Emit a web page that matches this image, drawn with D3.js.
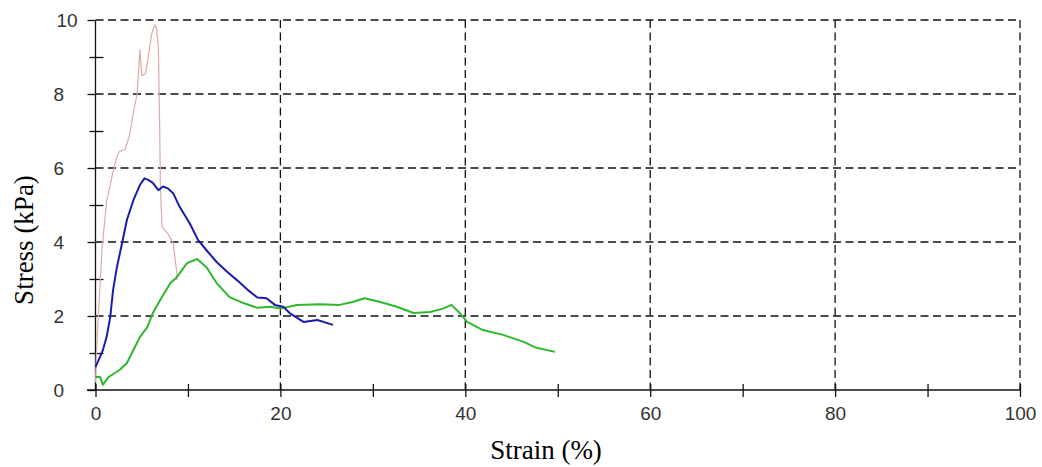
<!DOCTYPE html>
<html>
<head>
<meta charset="utf-8">
<script src="https://cdn.jsdelivr.net/npm/d3@7"></script>
<style>
  body { margin: 0; background: #fff; }
  svg { display: block; }
</style>
</head>
<body>
<svg width="1042" height="467"></svg>
<script>
// strain (%) vs stress (kPa)
var pinkStrain  = [0, 0.1, 0.3, 0.7, 1.2, 1.9, 2.3, 2.6, 3.2, 3.7, 4.1, 4.5, 4.8, 5.0, 5.4, 5.7, 6.1, 6.4, 6.6, 6.8, 6.9, 7.0, 7.0, 7.2, 7.8, 8.4, 8.8, 8.8];
var pinkStress  = [0.2, 1.0, 1.97, 3.8, 5.1, 5.9, 6.3, 6.45, 6.5, 6.9, 7.5, 8.0, 9.2, 8.5, 8.55, 9.0, 9.65, 9.86, 9.78, 9.27, 7.8, 6.0, 5.6, 4.4, 4.24, 3.97, 3.16, 2.97];

var blueStrain  = [0, 0.5, 0.8, 1.2, 1.6, 1.9, 2.3, 2.9, 3.4, 4.1, 4.8, 5.3, 5.7, 6.2, 6.8, 7.3, 7.8, 8.4, 9.1, 10.2, 11.1, 12.1, 13.1, 14.2, 15.3, 16.4, 17.5, 18.5, 19.4, 20.3, 21.0, 22.5, 24.0, 25.7];
var blueStress  = [0.62, 0.9, 1.08, 1.43, 1.98, 2.7, 3.3, 4.0, 4.6, 5.13, 5.54, 5.72, 5.68, 5.6, 5.4, 5.5, 5.45, 5.32, 4.95, 4.5, 4.05, 3.75, 3.46, 3.2, 2.97, 2.72, 2.5, 2.48, 2.3, 2.25, 2.08, 1.84, 1.89, 1.76];

var greenStrain = [0, 0.5, 0.8, 1.4, 2.1, 2.6, 3.4, 4.1, 4.8, 5.6, 6.2, 7.0, 8.1, 8.8, 9.9, 11.0, 12.0, 13.1, 14.5, 16.0, 17.5, 18.9, 20.0, 21.8, 24.3, 26.4, 27.8, 29.1, 30.8, 32.6, 34.4, 36.2, 37.6, 38.5, 39.4, 40.2, 41.9, 44.1, 46.3, 47.7, 49.7];
var greenStress = [0.35, 0.35, 0.14, 0.35, 0.46, 0.54, 0.73, 1.08, 1.43, 1.7, 2.08, 2.43, 2.89, 3.05, 3.43, 3.54, 3.32, 2.89, 2.51, 2.35, 2.22, 2.25, 2.2, 2.3, 2.32, 2.3, 2.38, 2.48, 2.38, 2.25, 2.08, 2.11, 2.2, 2.3, 2.08, 1.84, 1.62, 1.49, 1.3, 1.14, 1.03];

var xMajor = [0, 20, 40, 60, 80, 100];
var xMinor = [10, 30, 50, 70, 90];
var yMajor = [0, 2, 4, 6, 8, 10];
var yMinor = [1, 3, 5, 7, 9];

var x = d3.scaleLinear().domain([0, 100]).range([95.5, 1020]);
var y = d3.scaleLinear().domain([0, 10]).range([390, 20]);

var svg = d3.select('svg');

// dashed grid
svg.append('g')
  .selectAll('line')
  .data(yMajor.filter(d => d > 0))
  .enter()
  .append('line')
    .attr('x1', x(0)).attr('x2', x(100))
    .attr('y1', d => y(d)).attr('y2', d => y(d))
    .attr('stroke', '#111').attr('stroke-width', 1.3)
    .attr('stroke-dasharray', '8,4.5');

svg.append('g')
  .selectAll('line')
  .data(xMajor.filter(d => d > 0))
  .enter()
  .append('line')
    .attr('x1', d => x(d)).attr('x2', d => x(d))
    .attr('y1', y(10)).attr('y2', y(0))
    .attr('stroke', '#111').attr('stroke-width', 1.3)
    .attr('stroke-dasharray', '8,4.5');

// axes
var xAxis = svg.append('g')
  .attr('transform', 'translate(0,' + y(0) + ')')
  .call(d3.axisBottom(x).tickValues(xMajor.concat(xMinor)).tickSize(7).tickPadding(10)
    .tickFormat(d => xMajor.indexOf(d) >= 0 ? d : ''));
xAxis.select('.domain').remove();
xAxis.selectAll('.tick line').attr('y1', -6).attr('stroke', '#111').attr('stroke-width', 1.3);
xAxis.selectAll('text').attr('font-family', 'Liberation Sans, Arial, sans-serif')
  .attr('font-size', 19).attr('fill', '#333');
xAxis.append('line').attr('x1', 87).attr('x2', x(100)).attr('stroke', '#111').attr('stroke-width', 1.3);

var yAxis = svg.append('g')
  .attr('transform', 'translate(' + x(0) + ',0)')
  .call(d3.axisLeft(y).tickValues(yMajor.concat(yMinor)).tickSize(8).tickPadding(0)
    .tickFormat(d => yMajor.indexOf(d) >= 0 ? d : ''));
yAxis.select('.domain').remove();
yAxis.selectAll('.tick line').attr('stroke', '#111').attr('stroke-width', 1.3)
  .attr('x1', d => yMinor.indexOf(d) >= 0 ? 8 : 0)
  .attr('x2', d => yMinor.indexOf(d) >= 0 ? -6 : -8);
yAxis.selectAll('text')
  .attr('font-family', 'Liberation Sans, Arial, sans-serif')
  .attr('font-size', 19).attr('fill', '#333')
  .attr('text-anchor', 'start')
  .attr('x', d => d >= 10 ? -39 : -42);
yAxis.append('line').attr('y1', y(10)).attr('y2', y(0)).attr('stroke', '#111').attr('stroke-width', 1.3);

// curves
var line = d3.line().x(d => x(d[0])).y(d => y(d[1]));

function drawCurve(xs, ys, color, w) {
  svg.append('path')
    .datum(xs.map((v, i) => [v, ys[i]]))
    .attr('fill', 'none')
    .attr('stroke', color)
    .attr('stroke-width', w)
    .attr('stroke-linejoin', 'round')
    .attr('d', line);
}

drawCurve(pinkStrain, pinkStress, '#deaaa8', 1.2);
drawCurve(greenStrain, greenStress, '#2fb82f', 2);
drawCurve(blueStrain, blueStress, '#1c1caa', 2);

// titles
svg.append('text')
  .attr('x', 546).attr('y', 459)
  .attr('text-anchor', 'middle')
  .attr('font-family', 'Liberation Serif, Times New Roman, serif')
  .attr('font-size', 27)
  .text('Strain (%)');

svg.append('text')
  .attr('transform', 'translate(33,240) rotate(-90)')
  .attr('text-anchor', 'middle')
  .attr('font-family', 'Liberation Serif, Times New Roman, serif')
  .attr('font-size', 27)
  .text('Stress (kPa)');
</script>
</body>
</html>
